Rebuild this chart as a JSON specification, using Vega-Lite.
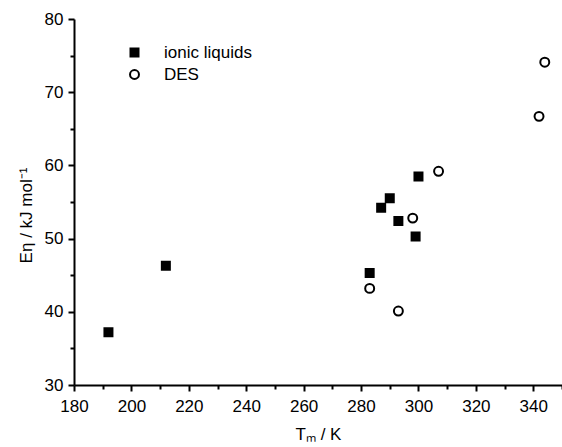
{
  "$schema": "https://vega.github.io/schema/vega-lite/v6.json",
  "width": 488,
  "height": 366,
  "autosize": "none",
  "padding": {"left": 74, "top": 19, "right": 0, "bottom": 62},
  "background": "white",
  "config": {
    "view": {"stroke": null},
    "font": "Liberation Sans"
  },
  "data": {
    "values": [
      {"Tm": 192, "E": 37.2, "series": "ionic liquids"},
      {"Tm": 212, "E": 46.3, "series": "ionic liquids"},
      {"Tm": 283, "E": 45.3, "series": "ionic liquids"},
      {"Tm": 287, "E": 54.2, "series": "ionic liquids"},
      {"Tm": 290, "E": 55.5, "series": "ionic liquids"},
      {"Tm": 293, "E": 52.4, "series": "ionic liquids"},
      {"Tm": 299, "E": 50.3, "series": "ionic liquids"},
      {"Tm": 300, "E": 58.5, "series": "ionic liquids"},
      {"Tm": 283, "E": 43.2, "series": "DES"},
      {"Tm": 293, "E": 40.1, "series": "DES"},
      {"Tm": 298, "E": 52.8, "series": "DES"},
      {"Tm": 307, "E": 59.2, "series": "DES"},
      {"Tm": 342, "E": 66.7, "series": "DES"},
      {"Tm": 344, "E": 74.1, "series": "DES"}
    ]
  },
  "mark": {"type": "point", "stroke": "black", "strokeWidth": 2, "opacity": 1, "fillOpacity": 1},
  "encoding": {
    "x": {
      "field": "Tm", "type": "quantitative",
      "scale": {"domain": [180, 350], "nice": false, "zero": false},
      "axis": {
        "title": "Tₘ / K",
        "values": [180,190,200,210,220,230,240,250,260,270,280,290,300,310,320,330,340,350],
        "labelExpr": "datum.value % 20 === 0 ? datum.label : ''",
        "grid": false,
        "domainColor": "black", "domainWidth": 2,
        "tickColor": "black", "tickWidth": 2,
        "tickSize": {"condition": {"test": "datum.value % 20 === 0", "value": 6}, "value": 4},
        "labelColor": "black", "labelFontSize": 17, "labelPadding": 7,
        "labelFlush": false, "labelOverlap": false,
        "titleColor": "black", "titleFontSize": 17, "titleFontWeight": "normal", "titlePadding": 12
      }
    },
    "y": {
      "field": "E", "type": "quantitative",
      "scale": {"domain": [30, 80], "nice": false, "zero": false},
      "axis": {
        "title": "Eη / kJ mol⁻¹",
        "values": [30,35,40,45,50,55,60,65,70,75,80],
        "labelExpr": "datum.value % 10 === 0 ? datum.label : ''",
        "grid": false,
        "domainColor": "black", "domainWidth": 2,
        "tickColor": "black", "tickWidth": 2,
        "tickSize": {"condition": {"test": "datum.value % 10 === 0", "value": 6}, "value": 4},
        "labelColor": "black", "labelFontSize": 17, "labelPadding": 5,
        "labelFlush": false, "labelOverlap": false,
        "titleColor": "black", "titleFontSize": 17, "titleFontWeight": "normal", "titlePadding": 9,
        "titleY": 196
      }
    },
    "shape": {
      "field": "series", "type": "nominal",
      "scale": {"domain": ["ionic liquids", "DES"], "range": ["square", "circle"]},
      "legend": {
        "title": null, "orient": "none", "legendX": 52, "legendY": 25,
        "labelFontSize": 17, "labelColor": "black", "labelOffset": 21,
        "rowPadding": 4, "symbolStrokeWidth": 2
      }
    },
    "fill": {
      "field": "series", "type": "nominal",
      "scale": {"domain": ["ionic liquids", "DES"], "range": ["black", "white"]},
      "legend": {
        "title": null, "orient": "none", "legendX": 52, "legendY": 25,
        "labelFontSize": 17, "labelColor": "black", "labelOffset": 21,
        "rowPadding": 4, "symbolStrokeWidth": 2
      }
    },
    "size": {
      "field": "series", "type": "nominal",
      "scale": {"domain": ["ionic liquids", "DES"], "range": [64, 80]},
      "legend": {
        "title": null, "orient": "none", "legendX": 52, "legendY": 25,
        "labelFontSize": 17, "labelColor": "black", "labelOffset": 21,
        "rowPadding": 4, "symbolStrokeWidth": 2
      }
    }
  }
}
